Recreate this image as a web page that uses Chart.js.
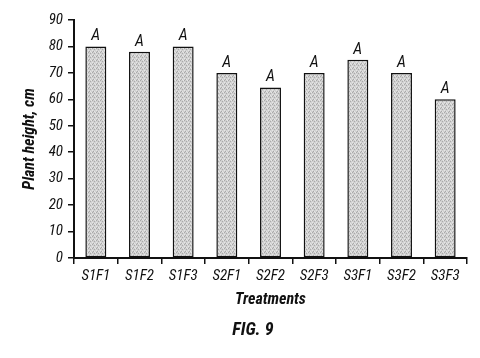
<!DOCTYPE html>
<html>
<head>
<meta charset="utf-8">
<script src="https://cdn.jsdelivr.net/npm/chart.js@4"></script>
<style>
  html, body { margin: 0; padding: 0; background: #fff; }
  #wrap { width: 480px; height: 358px; }
</style>
</head>
<body>
<div id="wrap"><canvas id="plantChart" width="480" height="358"></canvas></div>
<script>
// values
const treatments = ['S1F1', 'S1F2', 'S1F3', 'S2F1', 'S2F2', 'S2F3', 'S3F1', 'S3F2', 'S3F3'];
const plantHeight = [80, 78, 80, 70, 64.5, 70, 75, 70, 60];
const groupLetters = ['A', 'A', 'A', 'A', 'A', 'A', 'A', 'A', 'A'];
const yMin = 0, yMax = 90, yStep = 10;
const figLabel = 'FIG. 9';

const FONT = "'Roboto Condensed', 'Liberation Sans', Arial, sans-serif";

// stippled grey fill for the bars
function stipple() {
  const c = document.createElement('canvas');
  c.width = 4; c.height = 4;
  const g = c.getContext('2d');
  g.fillStyle = '#d0d0d0';
  g.fillRect(0, 0, 4, 4);
  g.fillStyle = '#a9a9a9';
  g.fillRect(0, 0, 1, 1);
  g.fillRect(2, 1, 1, 1);
  g.fillRect(1, 3, 1, 1);
  g.fillStyle = '#e6e6e6';
  g.fillRect(2, 3, 1, 1);
  g.fillRect(3, 0, 1, 1);
  g.fillRect(0, 2, 1, 1);
  return g.createPattern(c, 'repeat');
}

const letterPlugin = {
  id: 'letters',
  afterDatasetsDraw(chart) {
    const ctx = chart.ctx;
    const meta = chart.getDatasetMeta(0);
    ctx.save();
    ctx.font = 'italic 16px ' + FONT;
    ctx.fillStyle = '#111';
    ctx.textAlign = 'center';
    ctx.textBaseline = 'alphabetic';
    meta.data.forEach((bar, i) => {
      ctx.fillText(groupLetters[i], bar.x, bar.y - 6);
    });
    // figure caption, a little right of the page centre like the original
    ctx.font = 'italic bold 18px ' + FONT;
    ctx.textBaseline = 'middle';
    ctx.fillText(figLabel, chart.width / 2 + 13, chart.height - 28);
    ctx.restore();
  }
};

const plantChart = document.getElementById('plantChart').getContext('2d');
new Chart(plantChart, {
  type: 'bar',
  data: {
    labels: treatments,
    datasets: [{
      label: 'Plant height',
      data: plantHeight,
      backgroundColor: stipple(),
      borderColor: '#111',
      borderWidth: 1.5,
      borderSkipped: false,
      barPercentage: 0.48,
      categoryPercentage: 1
    }]
  },
  options: {
    responsive: false,
    animation: false,
    layout: { padding: { left: 0, right: 13, top: 20, bottom: 40 } },
    plugins: {
      legend: { display: false },
      tooltip: { enabled: false }
    },
    scales: {
      x: {
        afterFit(s) { s.height = 60; },
        grid: { display: true, drawOnChartArea: false, drawTicks: true, tickLength: 6, color: '#111', lineWidth: 1.5 },
        border: { display: true, color: '#111', width: 2 },
        ticks: { color: '#111', padding: 3, font: { family: FONT, size: 15, style: 'italic' } },
        title: {
          display: true,
          text: 'Treatments',
          color: '#111',
          font: { family: FONT, size: 16, weight: 'bold', style: 'italic', lineHeight: 1.2 },
          padding: { top: 0, bottom: 8 }
        }
      },
      y: {
        min: yMin,
        max: yMax,
        afterFit(s) { s.width = 74; },
        grid: { display: true, drawOnChartArea: false, drawTicks: true, tickLength: 6, color: '#111', lineWidth: 1.5 },
        border: { display: true, color: '#111', width: 2 },
        ticks: { stepSize: yStep, color: '#111', padding: 5, font: { family: FONT, size: 15, style: 'italic' } },
        title: {
          display: true,
          text: 'Plant height, cm',
          color: '#111',
          font: { family: FONT, size: 16, weight: 'bold', style: 'italic', lineHeight: 1.2 },
          padding: { top: 20, bottom: 0 }
        }
      }
    }
  },
  plugins: [letterPlugin]
});
</script>
</body>
</html>
